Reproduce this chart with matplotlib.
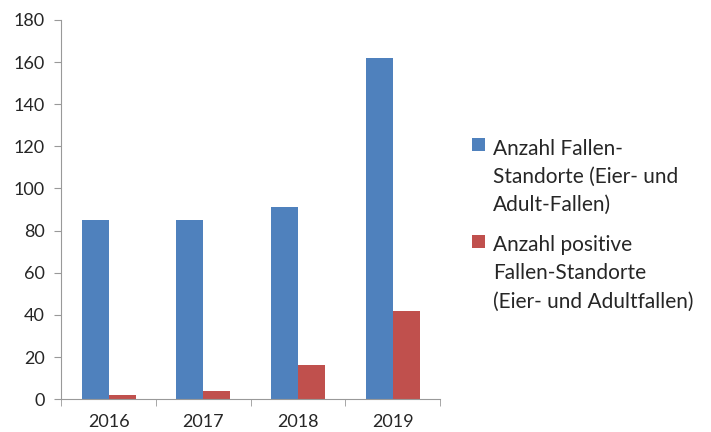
import numpy as np
import matplotlib.pyplot as plt
from matplotlib.legend_handler import HandlerPatch
from matplotlib.patches import Rectangle

years = ['2016', '2017', '2018', '2019']
fallen = [85, 85, 91, 162]
positive = [2, 4, 16, 42]
label_fallen = 'Anzahl Fallen-\nStandorte (Eier- und\nAdult-Fallen)'
label_positive = 'Anzahl positive\nFallen-Standorte\n(Eier- und Adultfallen)'

plt.rcParams['font.family'] = ['Lato', 'DejaVu Sans']
plt.rcParams['text.color'] = '#262626'


class TopSquare(HandlerPatch):
    # square handle lined up with the first line of a 3-line label
    def __init__(self, shift, **kw):
        super().__init__(**kw)
        self.shift = shift

    def create_artists(self, legend, orig_handle, xdescent, ydescent,
                       width, height, fontsize, trans):
        s = 0.63 * fontsize
        y0 = -ydescent + height / 2 - s / 2 + self.shift
        p = Rectangle((-xdescent, y0), s, s,
                      facecolor=orig_handle.patches[0].get_facecolor(),
                      edgecolor='none', transform=trans)
        return [p]


fig = plt.figure(figsize=(7.11, 4.32), dpi=100)
ax = fig.add_axes([0.086, 0.076, 0.533, 0.878])

x = np.arange(len(years))
w = 0.285
b1 = ax.bar(x - w/2, fallen, w, color='#4F81BD', label=label_fallen)
b2 = ax.bar(x + w/2, positive, w, color='#C0504D', label=label_positive)

ax.set_xlim(-0.5, len(years) - 0.5)
ax.set_ylim(0, 180)
ax.set_yticks(np.arange(0, 181, 20))
ax.set_xticks(x)
ax.set_xticklabels(years)
ax.set_xticks(np.arange(-0.5, len(years), 1), minor=True)
ax.tick_params(axis='x', which='major', length=0, labelsize=13,
               pad=11, labelcolor='#262626')
ax.tick_params(axis='x', which='minor', length=5, color='#999999')
ax.tick_params(axis='y', length=5, color='#999999', labelsize=13,
               pad=7, labelcolor='#262626')

for s in ['top', 'right']:
    ax.spines[s].set_visible(False)
for s in ['left', 'bottom']:
    ax.spines[s].set_color('#999999')

fs = 15
shift = 23.5
leg = fig.legend(loc='center left', bbox_to_anchor=(0.637, 0.479),
                 frameon=False, fontsize=fs, handlelength=0.63,
                 handleheight=0.63, handletextpad=0.4, labelspacing=1.0,
                 handler_map={b1: TopSquare(shift), b2: TopSquare(shift)})
for t in leg.get_texts():
    t.set_linespacing(1.5)

fig.savefig('out.png', dpi=100)
